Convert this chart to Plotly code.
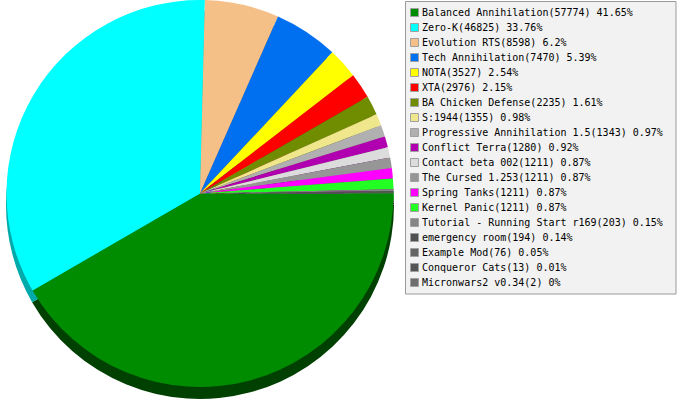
import plotly.graph_objects as go

W, H = 677, 400

labels = ["Balanced Annihilation", "Zero-K", "Evolution RTS", "Tech Annihilation", "NOTA",
          "XTA", "BA Chicken Defense", "S:1944", "Progressive Annihilation 1.5", "Conflict Terra",
          "Contact beta 002", "The Cursed 1.253", "Spring Tanks", "Kernel Panic",
          "Tutorial - Running Start r169", "emergency room", "Example Mod", "Conqueror Cats",
          "Micronwars2 v0.34"]
values = [57774, 46825, 8598, 7470, 3527, 2976, 2235, 1355, 1343, 1280,
          1211, 1211, 1211, 1211, 203, 194, 76, 13, 2]
colors = ["#008c00", "#00ffff", "#f5c088", "#0070f0", "#ffff00", "#ff0000", "#708c00",
          "#f0e68c", "#b0b0b0", "#b000b0", "#dcdcdc", "#969696", "#ff00ff", "#22ff22",
          "#858585", "#505050", "#646464", "#555555", "#6e6e6e"]
side_colors = ["#004000", "#00aaaa"]


def darker(hexc, f=0.6):
    r, g, b = int(hexc[1:3], 16), int(hexc[3:5], 16), int(hexc[5:7], 16)
    return "#%02x%02x%02x" % (int(r * f), int(g * f), int(b * f))


shadow = side_colors + [darker(c) for c in colors[2:]]

total = sum(values)
R = 194
cx, cy = 200, 193
depth = 12


def px_dom_x(a, b):
    return [a / W, b / W]


def px_dom_y(top, bottom):
    return [max(0, 1 - bottom / H), min(1, 1 - top / H)]


fig = go.Figure()
# side (depth) of the 3D pie
fig.add_trace(go.Pie(values=values, labels=labels, sort=False, direction="clockwise",
                     rotation=90, marker=dict(colors=shadow, line=dict(width=0)),
                     textinfo="none", hoverinfo="skip", showlegend=False,
                     domain=dict(x=px_dom_x(cx - R, cx + R),
                                 y=px_dom_y(cy - R + depth, cy + R + depth))))
# top surface
fig.add_trace(go.Pie(values=values, labels=labels, sort=False, direction="clockwise",
                     rotation=90, marker=dict(colors=colors, line=dict(width=0)),
                     textinfo="none", showlegend=False,
                     domain=dict(x=px_dom_x(cx - R, cx + R),
                                 y=px_dom_y(cy - R, cy + R))))


def px(x):
    return x / W


def py(y):
    return 1 - y / H


shapes = [dict(type="rect", xref="paper", yref="paper",
               x0=px(405.5), x1=px(676), y0=py(1.5), y1=py(294),
               fillcolor="#f2f2f2", line=dict(color="#9a9a9a", width=1), layer="below")]
annotations = []
for i, (lab, v, c) in enumerate(zip(labels, values, colors)):
    yc = 12 + 15 * i
    shapes.append(dict(type="rect", xref="paper", yref="paper",
                       x0=px(410.5), x1=px(418.5), y0=py(yc - 3.5), y1=py(yc + 4.5),
                       fillcolor=c, line=dict(color="#a0a0a0", width=1)))
    pct = "{:g}".format(round(v / total * 100, 2))
    annotations.append(dict(xref="paper", yref="paper", x=px(420), y=py(yc + 0.5),
                            xanchor="left", yanchor="middle", showarrow=False,
                            text=f"{lab}({v}) {pct}%",
                            font=dict(family="DejaVu Sans Mono", size=10, color="#000000")))

fig.update_layout(width=W, height=H, margin=dict(l=0, r=0, t=0, b=0),
                  paper_bgcolor="white", plot_bgcolor="white",
                  shapes=shapes, annotations=annotations, showlegend=False)

fig.write_html("out.html", config={"displayModeBar": False},
               post_script="document.body.style.margin='0';")
